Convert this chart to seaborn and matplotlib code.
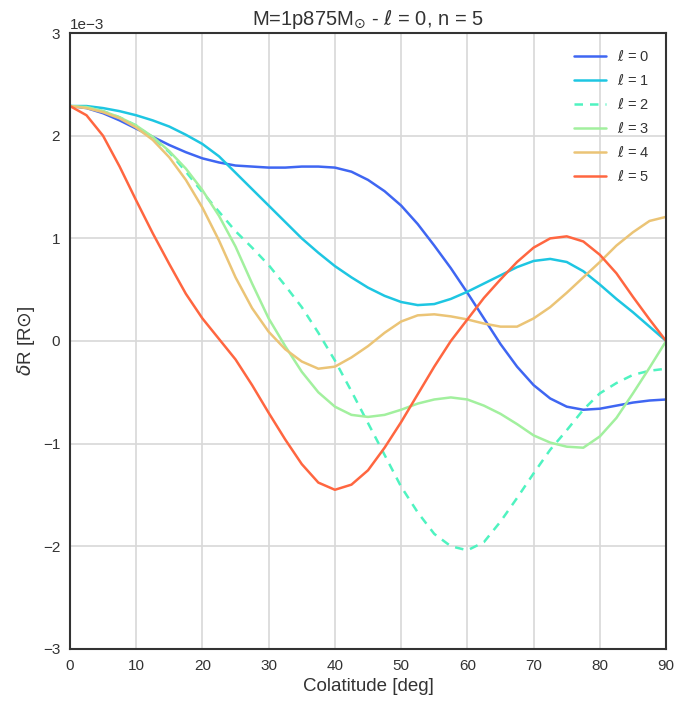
import numpy as np
import pandas as pd
import matplotlib
matplotlib.use("Agg")
import matplotlib.pyplot as plt
import seaborn as sns

colat = [0, 2.5, 5, 7.5, 10, 12.5, 15, 17.5, 20, 22.5, 25, 27.5, 30, 32.5, 35, 37.5,
         40, 42.5, 45, 47.5, 50, 52.5, 55, 57.5, 60, 62.5, 65, 67.5, 70, 72.5, 75,
         77.5, 80, 82.5, 85, 87.5, 90]

# values in units of 1e-3 R_sun
dr_l0 = [2.29, 2.27, 2.22, 2.15, 2.07, 1.99, 1.91, 1.84, 1.78, 1.74, 1.71, 1.70, 1.69,
         1.69, 1.70, 1.70, 1.69, 1.65, 1.57, 1.46, 1.32, 1.14, 0.93, 0.71, 0.47, 0.22,
         -0.03, -0.25, -0.43, -0.56, -0.64, -0.67, -0.66, -0.63, -0.60, -0.58, -0.57]
dr_l1 = [2.29, 2.29, 2.27, 2.24, 2.20, 2.15, 2.09, 2.01, 1.92, 1.80, 1.64, 1.48, 1.32,
         1.16, 1.00, 0.86, 0.73, 0.62, 0.52, 0.44, 0.38, 0.35, 0.36, 0.41, 0.48, 0.56,
         0.64, 0.72, 0.78, 0.80, 0.77, 0.68, 0.55, 0.41, 0.28, 0.14, 0.00]
dr_l2 = [2.29, 2.28, 2.24, 2.18, 2.10, 1.98, 1.84, 1.65, 1.45, 1.26, 1.07, 0.91, 0.74,
         0.54, 0.33, 0.08, -0.19, -0.49, -0.80, -1.11, -1.42, -1.67, -1.88, -2.00, -2.04,
         -1.96, -1.76, -1.53, -1.29, -1.06, -0.87, -0.67, -0.51, -0.41, -0.33, -0.29, -0.27]
dr_l3 = [2.29, 2.28, 2.24, 2.18, 2.10, 1.99, 1.85, 1.68, 1.47, 1.22, 0.92, 0.56, 0.22,
         -0.05, -0.30, -0.50, -0.64, -0.72, -0.74, -0.72, -0.67, -0.61, -0.57, -0.55,
         -0.57, -0.63, -0.71, -0.81, -0.92, -0.99, -1.03, -1.04, -0.93, -0.75, -0.51,
         -0.26, 0.00]
dr_l4 = [2.29, 2.27, 2.23, 2.17, 2.08, 1.96, 1.79, 1.57, 1.30, 0.98, 0.62, 0.32, 0.09,
         -0.08, -0.20, -0.27, -0.25, -0.16, -0.05, 0.08, 0.19, 0.25, 0.26, 0.24, 0.21,
         0.17, 0.14, 0.14, 0.22, 0.33, 0.47, 0.62, 0.77, 0.93, 1.06, 1.17, 1.21]
dr_l5 = [2.29, 2.20, 2.00, 1.70, 1.37, 1.05, 0.75, 0.46, 0.22, 0.02, -0.18, -0.43, -0.70,
         -0.96, -1.20, -1.38, -1.45, -1.40, -1.26, -1.04, -0.79, -0.52, -0.25, 0.00, 0.21,
         0.42, 0.60, 0.77, 0.91, 1.00, 1.02, 0.97, 0.84, 0.66, 0.43, 0.21, 0.00]

labels = [r"$\ell$ = 0", r"$\ell$ = 1", r"$\ell$ = 2", r"$\ell$ = 3", r"$\ell$ = 4", r"$\ell$ = 5"]
series = [dr_l0, dr_l1, dr_l2, dr_l3, dr_l4, dr_l5]
colors = ["#3f66f2", "#1ec6e2", "#4ff3c0", "#a2f09e", "#ebc476", "#ff6640"]

rows = []
for lab, vals in zip(labels, series):
    for x, v in zip(colat, vals):
        rows.append({"colat": x, "dr": v * 1e-3, "ell": lab})
df = pd.DataFrame(rows)

sns.set_style("whitegrid", {"axes.edgecolor": "#333333", "grid.color": "#d8d8d8",
                            "axes.linewidth": 1.5})
plt.rcParams["font.family"] = ["Liberation Sans", "DejaVu Sans"]
plt.rcParams["mathtext.fontset"] = "dejavusans"
plt.rcParams["lines.solid_joinstyle"] = "round"
plt.rcParams["lines.dash_joinstyle"] = "round"

fig = plt.figure(figsize=(6.79, 7.06), dpi=100)
ax = fig.add_axes([0.103, 0.081, 0.878, 0.872])

palette = dict(zip(labels, colors))
dashes = {lab: "" for lab in labels}
dashes[labels[2]] = (3.4, 2.8)
sns.lineplot(data=df, x="colat", y="dr", hue="ell", style="ell", palette=palette,
             dashes=dashes, linewidth=1.8, ax=ax, legend=True)

ax.set_xlim(0, 90)
ax.set_ylim(-3e-3, 3e-3)
ax.set_xticks(np.arange(0, 91, 10))
ax.set_yticks(np.arange(-3e-3, 3.1e-3, 1e-3))
ax.ticklabel_format(axis="y", style="sci", scilimits=(0, 0))
ax.yaxis.get_offset_text().set_fontsize(11)
ax.tick_params(labelsize=11, colors="#333333")
for s in ax.spines.values():
    s.set_color("#333333")
    s.set_linewidth(1.5)
ax.grid(True, color="#d8d8d8", linewidth=1.2)

ax.set_xlabel("Colatitude [deg]", fontsize=13.5, color="#333333")
ax.set_ylabel(r"$\delta$R [R$\odot$]", fontsize=13.5, color="#333333")
ax.set_title(r"M=1p875M$_{\odot}$ - $\ell$ = 0, n = 5", fontsize=14.5, color="#333333")

leg = ax.legend(loc="upper right", frameon=False, fontsize=10.5, handlelength=2.2,
                labelspacing=0.62, borderaxespad=0.7)
for t in leg.get_texts():
    t.set_color("#333333")

fig.savefig("out.png", dpi=100)
